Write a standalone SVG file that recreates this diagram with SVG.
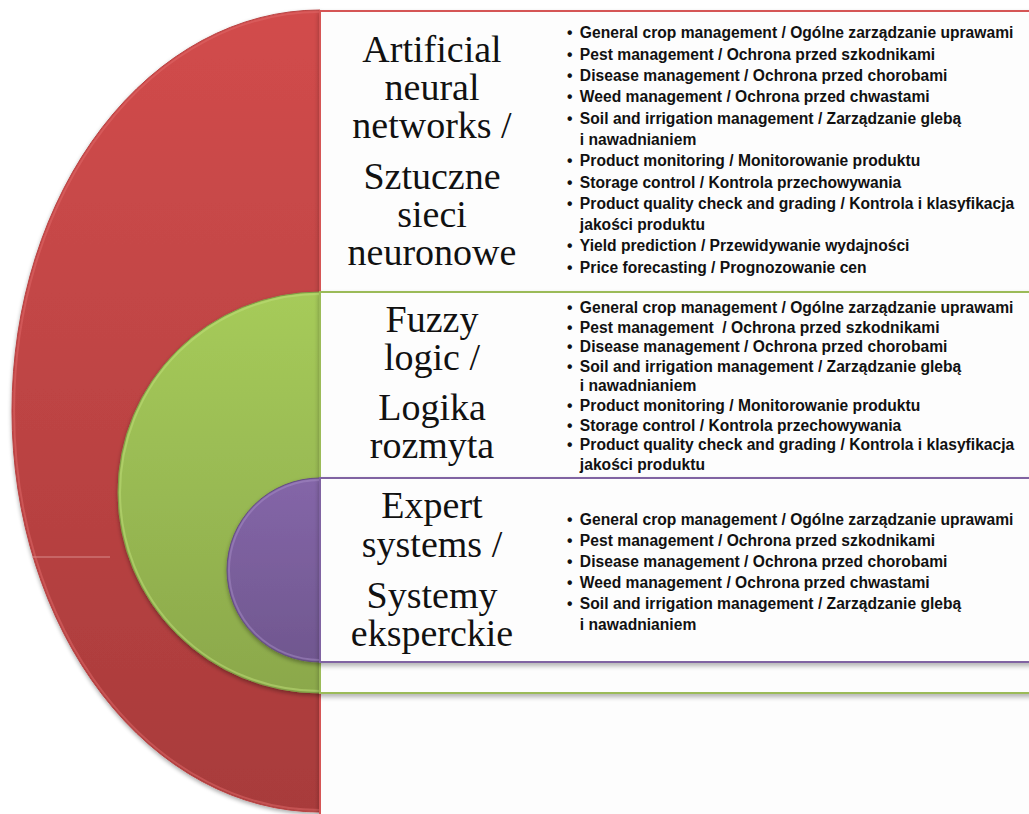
<svg xmlns="http://www.w3.org/2000/svg" width="1029" height="814" viewBox="0 0 1029 814">
<defs>
<linearGradient id="gRed" x1="0" y1="0" x2="0" y2="1">
<stop offset="0" stop-color="#d24c4c"/><stop offset="1" stop-color="#a83b3b"/>
</linearGradient>
<linearGradient id="gGreen" x1="0" y1="0" x2="0" y2="1">
<stop offset="0" stop-color="#a6cb5a"/><stop offset="1" stop-color="#8ba84b"/>
</linearGradient>
<linearGradient id="gPurple" x1="0" y1="0" x2="0" y2="1">
<stop offset="0" stop-color="#8466a8"/><stop offset="1" stop-color="#70578f"/>
</linearGradient>
<filter id="sh" x="-10%" y="-10%" width="120%" height="120%">
<feGaussianBlur in="SourceAlpha" stdDeviation="2"/>
<feOffset dx="0" dy="2" result="b"/>
<feComponentTransfer><feFuncA type="linear" slope="0.35"/></feComponentTransfer>
<feMerge><feMergeNode/><feMergeNode in="SourceGraphic"/></feMerge>
</filter>
<filter id="bsh" x="-5%" y="-5%" width="110%" height="110%">
<feGaussianBlur in="SourceAlpha" stdDeviation="2.5"/>
<feOffset dx="0" dy="3"/>
<feComponentTransfer><feFuncA type="linear" slope="0.3"/></feComponentTransfer>
<feMerge><feMergeNode/><feMergeNode in="SourceGraphic"/></feMerge>
</filter>
</defs>
<style>
.title{font-family:"Liberation Serif","Times New Roman",serif;font-size:38px;fill:#111;text-anchor:middle}
.item{font-family:"Liberation Sans",Arial,sans-serif;font-size:17px;font-weight:bold;fill:#111}
.box{fill:#fdfdfd;stroke-width:2}
</style>
<rect width="1029" height="814" fill="#ffffff"/>

<g id="ann">
<path d="M320,10 A308,401 0 0 0 320,812 Z" fill="url(#gRed)" stroke="#b84242" stroke-width="1" filter="url(#sh)"/>
<path d="M320,12 A306,399 0 0 0 320,810" fill="none" stroke="#e06a6a" stroke-width="2" opacity="0.5"/>
<line x1="32" y1="557" x2="110" y2="557" stroke="#d98a8a" stroke-width="1"/>
<rect class="box" x="320" y="11" width="720" height="820" stroke="#d55555" filter="url(#bsh)"/>
<text class="title" x="432" y="62">Artificial<tspan x="432" dy="38">neural</tspan><tspan x="432" dy="38">networks /</tspan><tspan x="432" dy="51">Sztuczne</tspan><tspan x="432" dy="38">sieci</tspan><tspan x="432" dy="38">neuronowe</tspan></text>
<g class="item" transform="translate(567,0) scale(0.92,1)">
<text x="0" y="38.5">•</text><text x="14" y="38.5">General crop management / Ogólne zarządzanie uprawami</text>
<text x="0" y="59.8">•</text><text x="14" y="59.8">Pest management / Ochrona przed szkodnikami</text>
<text x="0" y="81.1">•</text><text x="14" y="81.1">Disease management / Ochrona przed chorobami</text>
<text x="0" y="102.4">•</text><text x="14" y="102.4">Weed management / Ochrona przed chwastami</text>
<text x="0" y="123.7">•</text><text x="14" y="123.7">Soil and irrigation management / Zarządzanie glebą</text>
<text x="14" y="145">i nawadnianiem</text>
<text x="0" y="166.3">•</text><text x="14" y="166.3">Product monitoring / Monitorowanie produktu</text>
<text x="0" y="187.6">•</text><text x="14" y="187.6">Storage control / Kontrola przechowywania</text>
<text x="0" y="208.9">•</text><text x="14" y="208.9">Product quality check and grading / Kontrola i klasyfikacja</text>
<text x="14" y="230.2">jakości produktu</text>
<text x="0" y="251.5">•</text><text x="14" y="251.5">Yield prediction / Przewidywanie wydajności</text>
<text x="0" y="272.8">•</text><text x="14" y="272.8">Price forecasting / Prognozowanie cen</text>
</g>
</g>

<g id="fuzzy">
<path d="M320,292 A202,200.5 0 0 0 320,693 Z" fill="url(#gGreen)" stroke="#7f9a45" stroke-width="1" filter="url(#sh)"/>
<path d="M320,294 A200,198.5 0 0 0 320,691" fill="none" stroke="#bfe07a" stroke-width="2" opacity="0.5"/>
<rect class="box" x="320" y="292" width="720" height="401" stroke="#9bbb59" filter="url(#bsh)"/>
<text class="title" x="432" y="331.5">Fuzzy<tspan x="432" dy="38">logic /</tspan><tspan x="432" dy="50">Logika</tspan><tspan x="432" dy="38">rozmyta</tspan></text>
<g class="item" transform="translate(567,0) scale(0.92,1)">
<text x="0" y="313">•</text><text x="14" y="313">General crop management / Ogólne zarządzanie uprawami</text>
<text x="0" y="332.6">•</text><text x="14" y="332.6" xml:space="preserve">Pest management  / Ochrona przed szkodnikami</text>
<text x="0" y="352.2">•</text><text x="14" y="352.2">Disease management / Ochrona przed chorobami</text>
<text x="0" y="371.8">•</text><text x="14" y="371.8">Soil and irrigation management / Zarządzanie glebą</text>
<text x="14" y="391.4">i nawadnianiem</text>
<text x="0" y="411">•</text><text x="14" y="411">Product monitoring / Monitorowanie produktu</text>
<text x="0" y="430.6">•</text><text x="14" y="430.6">Storage control / Kontrola przechowywania</text>
<text x="0" y="450.2">•</text><text x="14" y="450.2">Product quality check and grading / Kontrola i klasyfikacja</text>
<text x="14" y="469.8">jakości produktu</text>
</g>
</g>

<g id="expert">
<path d="M320,478 A93,92 0 0 0 320,662 Z" fill="url(#gPurple)" stroke="#644d82" stroke-width="1" filter="url(#sh)"/>
<path d="M320,480 A91,90 0 0 0 320,660" fill="none" stroke="#a58bc6" stroke-width="2" opacity="0.5"/>
<rect class="box" x="320" y="478" width="720" height="184" stroke="#8064a2" filter="url(#bsh)"/>
<text class="title" x="432" y="518">Expert<tspan x="432" dy="39">systems /</tspan><tspan x="432" dy="50.5">Systemy</tspan><tspan x="432" dy="38">eksperckie</tspan></text>
<g class="item" transform="translate(567,0) scale(0.92,1)">
<text x="0" y="525">•</text><text x="14" y="525">General crop management / Ogólne zarządzanie uprawami</text>
<text x="0" y="546">•</text><text x="14" y="546">Pest management / Ochrona przed szkodnikami</text>
<text x="0" y="567">•</text><text x="14" y="567">Disease management / Ochrona przed chorobami</text>
<text x="0" y="588">•</text><text x="14" y="588">Weed management / Ochrona przed chwastami</text>
<text x="0" y="609">•</text><text x="14" y="609">Soil and irrigation management / Zarządzanie glebą</text>
<text x="14" y="630">i nawadnianiem</text>
</g>
</g>

<g id="connectors"/>
</svg>
